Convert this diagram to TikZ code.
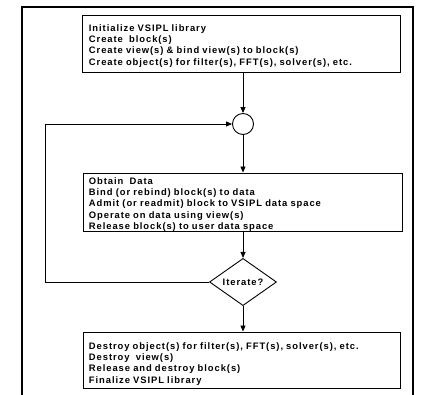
\documentclass[tikz,border=0pt]{standalone}
\usepackage{fontspec}
\setmainfont{Liberation Sans}[LetterSpace=10]
\usetikzlibrary{arrows.meta,shapes.geometric}
\begin{document}
\begin{tikzpicture}[x=1pt,y=-1pt,
  font=\fontsize{9.4}{11.2}\selectfont\bfseries,
  line width=0.9pt,
  tip/.style={-{Triangle[length=6pt,width=5pt]}},
  stepbox/.style={draw,rectangle,inner sep=0pt},
  steptext/.style={anchor=base west,align=left,text width=310pt,inner sep=0pt},
  merge/.style={draw,circle,minimum size=21pt,inner sep=0pt},
  decide/.style={draw,diamond,minimum width=67pt,minimum height=43pt,inner sep=0pt}]
  \useasboundingbox (0,0) rectangle (423,395);
  % outer frame, open at the bottom edge
  \draw[line width=2pt] (22,396) -- (22,7) -- (413,7) -- (413,396);

  % set-up stage
  \node[stepbox,minimum width=318pt,minimum height=57pt] (init) at (241,43.5) {};
  \node[steptext] (init-text) at (88.5,31.5)
    {Initialize VSIPL library\\
     Create \ block(s)\\
     Create view(s) \& bind view(s) to block(s)\\
     Create object(s) for filter(s), FFT(s), solver(s), etc.};

  \node[merge] (join) at (243,124) {};

  % processing stage
  \node[stepbox,minimum width=319pt,minimum height=58pt] (work) at (242.5,202) {};
  \node[steptext] (work-text) at (88.5,184.5)
    {Obtain \ Data\\
     Bind (or rebind) block(s) to data\\
     Admit (or readmit) block to VSIPL data space\\
     Operate on data using view(s)\\
     Release block(s) to user data space};

  \node[decide] (iter) at (243,282) {Iterate?};

  % clean-up stage
  \node[stepbox,minimum width=317pt,minimum height=56pt] (final) at (241.5,360) {};
  \node[steptext] (final-text) at (88.5,349.5)
    {Destroy object(s) for filter(s), FFT(s), solver(s), etc.\\
     Destroy \ view(s)\\
     Release and destroy block(s)\\
     Finalize VSIPL library};

  \coordinate (loopbot) at (45,282);
  \coordinate (looptop) at (45,124);

  \draw[tip] (init.south -| join) -- (join.north);
  \draw[tip] (join.south) -- (work.north -| join);
  \draw[tip] (work.south -| iter) -- (iter.north);
  \draw[tip] (iter.south) -- (final.north -| iter);
  \draw[tip] (iter.west) -- (loopbot) -- (looptop) -- (join.west);
\end{tikzpicture}
\end{document}
